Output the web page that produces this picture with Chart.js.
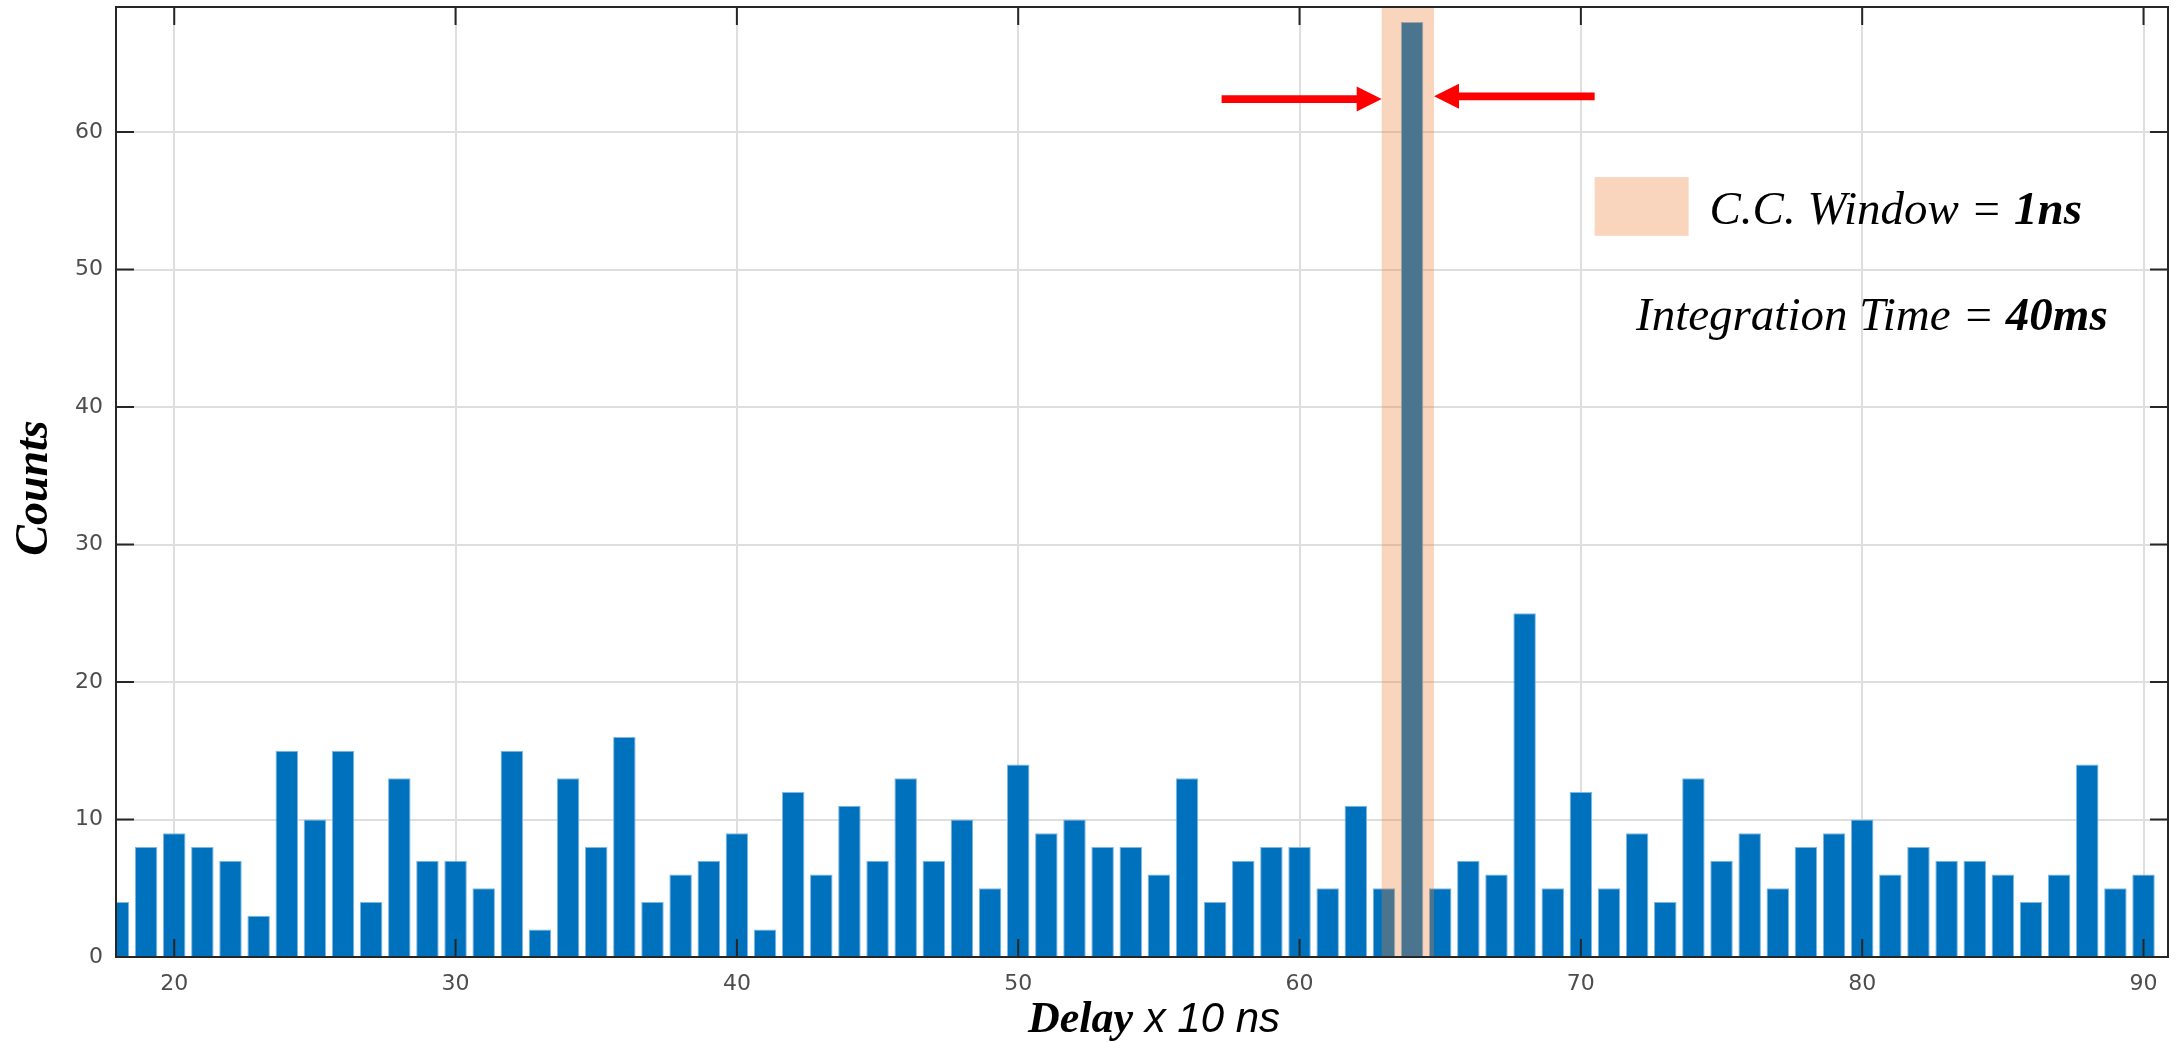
<!DOCTYPE html>
<html lang="en">
<head>
  <meta charset="UTF-8" />
  <title>Coincidence counts vs delay</title>
  <script src="https://cdn.jsdelivr.net/npm/chart.js"></script>
  <style>
    html, body { margin: 0; padding: 0; background: #fff; }
    canvas { display: block; }
  </style>
</head>
<body>
  <canvas id="chartCanvas" width="2178" height="1042"></canvas>

  <script>
    // delay bins (x 10 ns) and counts per bin
    const delays = [18, 19, 20, 21, 22, 23, 24, 25, 26, 27, 28, 29, 30, 31, 32, 33, 34, 35, 36, 37,
                    38, 39, 40, 41, 42, 43, 44, 45, 46, 47, 48, 49, 50, 51, 52, 53, 54, 55, 56, 57,
                    58, 59, 60, 61, 62, 63, 64, 65, 66, 67, 68, 69, 70, 71, 72, 73, 74, 75, 76, 77,
                    78, 79, 80, 81, 82, 83, 84, 85, 86, 87, 88, 89, 90];
    const counts = [4, 8, 9, 8, 7, 3, 15, 10, 15, 4, 13, 7, 7, 5, 15, 2, 13, 8, 16, 4,
                    6, 7, 9, 2, 12, 6, 11, 7, 13, 7, 10, 5, 14, 9, 10, 8, 8, 6, 13, 4,
                    7, 8, 8, 5, 11, 5, 68, 5, 7, 6, 25, 5, 12, 5, 9, 4, 13, 7, 9, 5,
                    8, 9, 10, 6, 8, 7, 7, 6, 4, 6, 14, 5, 6];

    // axis ranges
    const xRange = [17.93, 90.87];
    const yRange = [0, 69.1];

    // coincidence window (in delay units) and the arrows pointing at it
    const ccWindow = [62.92, 64.78];
    const arrowLeft = { from: 57.23, to: 62.92, y: 62.4 };
    const arrowRight = { from: 70.49, to: 64.78, y: 62.6 };

    // legend swatch and annotation texts, placed in data units
    const legendBox = { x0: 70.49, x1: 73.83, y0: 56.73, y1: 52.46 };
    const ccLabel = { x: 74.57, y: 53.3, plain: 'C.C. Window = ', bold: '1ns' };
    const itLabel = { x: 71.96, y: 45.6, plain: 'Integration Time = ', bold: '40ms' };

    const barBlue = '#0072bd';
    const peach = 'rgba(233, 124, 47, 0.32)';
    const serif = '"Liberation Serif", "Times New Roman", serif';
    const sans = '"DejaVu Sans", Verdana, sans-serif';

    function drawArrow(ctx, xFrom, xTo, yPix) {
      const dir = Math.sign(xTo - xFrom);
      const headLen = 25, headHalf = 12.5, shaft = 3.8;
      const base = xTo - dir * headLen;
      ctx.beginPath();
      ctx.moveTo(xFrom, yPix - shaft);
      ctx.lineTo(base, yPix - shaft);
      ctx.lineTo(base, yPix - headHalf);
      ctx.lineTo(xTo, yPix);
      ctx.lineTo(base, yPix + headHalf);
      ctx.lineTo(base, yPix + shaft);
      ctx.lineTo(xFrom, yPix + shaft);
      ctx.closePath();
      ctx.fill();
    }

    function drawMixed(ctx, parts, x, y) {
      let cx = x;
      parts.forEach(p => {
        ctx.font = p.font;
        ctx.fillText(p.text, cx, y);
        cx += ctx.measureText(p.text).width;
      });
    }

    const overlay = {
      id: 'overlay',
      afterDatasetsDraw(chart) {
        const { ctx, chartArea: a, scales: { x, y } } = chart;
        ctx.save();
        ctx.beginPath();
        ctx.rect(a.left, a.top, a.right - a.left, a.bottom - a.top);
        ctx.clip();

        // shaded coincidence window
        ctx.fillStyle = peach;
        const w0 = x.getPixelForValue(ccWindow[0]);
        const w1 = x.getPixelForValue(ccWindow[1]);
        ctx.fillRect(w0, a.top, w1 - w0, a.bottom - a.top);

        // legend swatch
        const lx0 = x.getPixelForValue(legendBox.x0), lx1 = x.getPixelForValue(legendBox.x1);
        const ly0 = y.getPixelForValue(legendBox.y0), ly1 = y.getPixelForValue(legendBox.y1);
        ctx.fillRect(lx0, ly0, lx1 - lx0, ly1 - ly0);

        // arrows
        ctx.fillStyle = '#ff0000';
        drawArrow(ctx, x.getPixelForValue(arrowLeft.from), x.getPixelForValue(arrowLeft.to), y.getPixelForValue(arrowLeft.y));
        drawArrow(ctx, x.getPixelForValue(arrowRight.from), x.getPixelForValue(arrowRight.to), y.getPixelForValue(arrowRight.y));

        // annotation text
        ctx.fillStyle = '#000';
        ctx.textBaseline = 'alphabetic';
        ctx.textAlign = 'left';
        [ccLabel, itLabel].forEach(l => {
          drawMixed(ctx, [
            { text: l.plain, font: 'italic 47px ' + serif },
            { text: l.bold, font: 'italic bold 47px ' + serif }
          ], x.getPixelForValue(l.x), y.getPixelForValue(l.y));
        });
        ctx.restore();
      },
      afterDraw(chart) {
        const { ctx, chartArea: a, scales: { x, y } } = chart;
        ctx.save();

        // inward tick marks on all four sides
        ctx.strokeStyle = '#262626';
        ctx.lineWidth = 2;
        const tl = 18;
        ctx.beginPath();
        x.ticks.forEach(t => {
          const px = x.getPixelForValue(t.value);
          ctx.moveTo(px, a.bottom); ctx.lineTo(px, a.bottom - tl);
          ctx.moveTo(px, a.top); ctx.lineTo(px, a.top + tl);
        });
        y.ticks.forEach(t => {
          const py = y.getPixelForValue(t.value);
          ctx.moveTo(a.left, py); ctx.lineTo(a.left + tl, py);
          ctx.moveTo(a.right, py); ctx.lineTo(a.right - tl, py);
        });
        ctx.stroke();

        // axes box
        ctx.strokeRect(a.left, a.top, a.right - a.left, a.bottom - a.top);

        // axis titles
        ctx.fillStyle = '#000';
        ctx.textBaseline = 'alphabetic';
        ctx.font = 'italic bold 46px ' + serif;
        ctx.textAlign = 'center';
        ctx.translate(a.left - 69, (a.top + a.bottom) / 2 + 6);
        ctx.rotate(-Math.PI / 2);
        ctx.fillText('Counts', 0, 0);
        ctx.setTransform(1, 0, 0, 1, 0, 0);

        ctx.textAlign = 'left';
        const parts = [
          { text: 'Delay', font: 'italic bold 44px ' + serif },
          { text: ' x 10 ns', font: 'italic 42px "Liberation Sans", Arial, sans-serif' }
        ];
        let total = 0;
        parts.forEach(p => { ctx.font = p.font; total += ctx.measureText(p.text).width; });
        drawMixed(ctx, parts, (a.left + a.right) / 2 + 12 - total / 2, a.bottom + 75);
        ctx.restore();
      }
    };

    const ctx = document.getElementById('chartCanvas').getContext('2d');
    new Chart(ctx, {
      type: 'bar',
      data: {
        datasets: [{
          data: delays.map((d, i) => ({ x: d, y: counts[i] })),
          backgroundColor: barBlue,
          borderColor: '#7fb8e3',
          borderWidth: 1,
          borderSkipped: 'start',
          barPercentage: 0.8,
          categoryPercentage: 1.0
        }]
      },
      options: {
        responsive: false,
        animation: false,
        devicePixelRatio: 1,
        layout: { padding: { top: 7, right: 10, left: 0, bottom: 0 } },
        plugins: {
          legend: { display: false },
          tooltip: { enabled: false }
        },
        scales: {
          x: {
            type: 'linear',
            min: xRange[0],
            max: xRange[1],
            offset: false,
            afterFit: s => { s.height = 85; s.paddingLeft = 0; s.paddingRight = 0; },
            border: { display: false },
            grid: { color: '#dedede', lineWidth: 2, drawTicks: false, offset: false },
            ticks: {
              stepSize: 10,
              includeBounds: false,
              padding: 14,
              color: '#4d4d4d',
              font: { family: sans, size: 22 }
            }
          },
          y: {
            min: yRange[0],
            max: yRange[1],
            afterFit: s => { s.width = 116; s.paddingTop = 0; s.paddingBottom = 0; },
            border: { display: false },
            grid: { color: '#dedede', lineWidth: 2, drawTicks: false },
            ticks: {
              stepSize: 10,
              includeBounds: false,
              padding: 13,
              color: '#4d4d4d',
              font: { family: sans, size: 22 }
            }
          }
        }
      },
      plugins: [overlay]
    });
  </script>
</body>
</html>
